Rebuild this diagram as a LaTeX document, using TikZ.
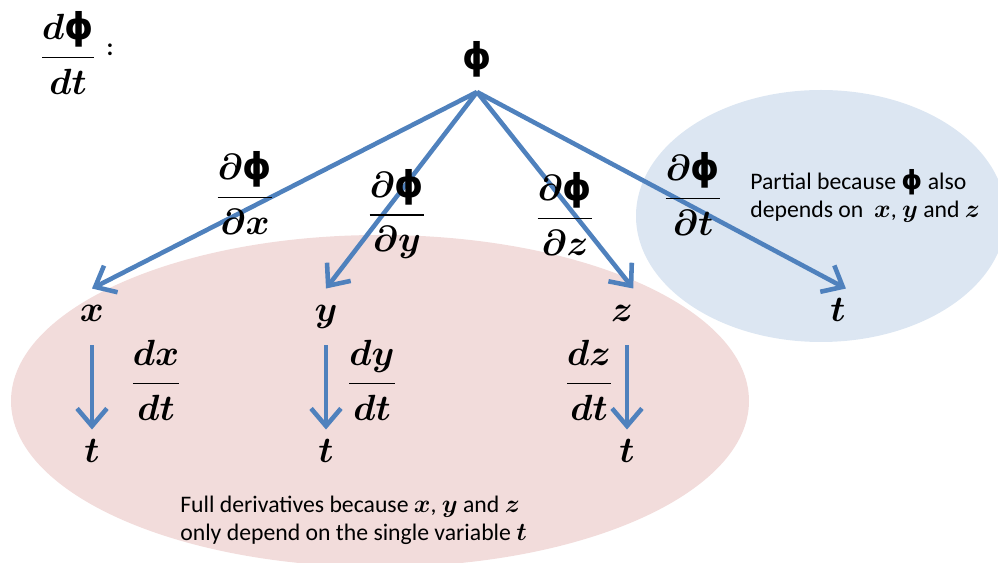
\documentclass[tikz,border=0pt]{standalone}
\usepackage{amsmath, amssymb}
\usepackage{fontspec}
\setmainfont{Carlito}
\newfontfamily\phifont{DejaVu Sans}
\usepackage{tikz}
\usetikzlibrary{arrows.meta}

\definecolor{arrowblue}{RGB}{79,129,189}
\definecolor{pinkfill}{RGB}{242,220,219}
\definecolor{bluefill}{RGB}{220,230,242}

% upright phi and larger variables inside the notes
\newcommand{\uphi}{\text{\phifont\bfseries ϕ}}
\newcommand{\nv}[1]{{\fontsize{15}{15}\selectfont$\boldsymbol{#1}$}}

\begin{document}
\begin{tikzpicture}[
  x=0.02cm, y=-0.02cm,
  arr/.style={draw=arrowblue, line width=2.6pt, -{Straight Barb[length=10pt,width=17pt]}},
  var/.style={font=\fontsize{21}{25}\selectfont, inner sep=0pt, text height=9.5pt, text depth=4pt, minimum height=32pt},
  frac/.style={font=\fontsize{21}{25}\selectfont, inner sep=0pt},
  note/.style={font=\fontsize{13.5}{16}\selectfont, align=left, anchor=west, inner sep=0pt}
]
  \useasboundingbox (0,0) rectangle (998,563);

  % Regions
  \fill[pinkfill] (380,401) ellipse [x radius=369, y radius=166];
  \fill[bluefill] (821,216) ellipse [x radius=185, y radius=126];

  % Title
  \node[frac] (rate) at (68,53) {$\boldsymbol{\dfrac{d\uphi}{dt}}$};
  \node[font=\fontsize{14}{15}\selectfont\bfseries] (colon) at (110,50) {:};

  % Root
  \node[var] (phi) at (477,65) {$\uphi$};
  \coordinate (fork) at (477,92);

  % Middle row
  \node[var] (x) at (92,317) {$\boldsymbol{x}$};
  \node[var] (y) at (326,317) {$\boldsymbol{y}$};
  \node[var] (z) at (622,317) {$\boldsymbol{z}$};
  \node[var] (tp) at (838,317) {$\boldsymbol{t}$};

  % Bottom row
  \node[var] (tx) at (92,458) {$\boldsymbol{t}$};
  \node[var] (ty) at (326,458) {$\boldsymbol{t}$};
  \node[var] (tz) at (627,458) {$\boldsymbol{t}$};

  % Partial derivatives
  \draw[arr] (fork) -- (x.north);
  \draw[arr] (fork) -- (y.north);
  \draw[arr] (fork) -- (z.north east);
  \draw[arr] (fork) -- (tp.north east);
  \node[frac] (dpx) at (245,193) {$\boldsymbol{\dfrac{\partial\uphi}{\partial x}}$};
  \node[frac] (dpy) at (397,214) {$\boldsymbol{\dfrac{\partial\uphi}{\partial y}}$};
  \node[frac] (dpz) at (565,214) {$\boldsymbol{\dfrac{\partial\uphi}{\partial z}}$};
  \node[frac] (dpt) at (693,194) {$\boldsymbol{\dfrac{\partial\uphi}{\partial t}}$};

  % Full derivatives
  \draw[arr] (x) -- (tx);
  \draw[arr] (y) -- (ty);
  \draw[arr] (z.south -| tz) -- (tz);
  \node[frac] (dxt) at (156,380) {$\boldsymbol{\dfrac{dx}{dt}}$};
  \node[frac] (dyt) at (372,380) {$\boldsymbol{\dfrac{dy}{dt}}$};
  \node[frac] (dzt) at (589,380) {$\boldsymbol{\dfrac{dz}{dt}}$};

  % Notes
  \node[note] (partial) at (750,196)
    {Partial because \nv{\uphi} also\\depends on\ \ \nv{x}, \nv{y} and \nv{z}};
  \node[note] (full) at (180,520)
    {Full derivatives because \nv{x}, \nv{y} and \nv{z}\\only depend on the single variable \nv{t}};
\end{tikzpicture}
\end{document}
